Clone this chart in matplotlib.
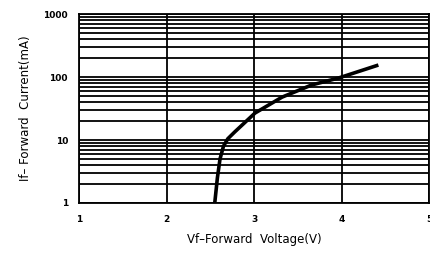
import numpy as np
import matplotlib.pyplot as plt
from matplotlib.ticker import FixedLocator, NullFormatter

# forward voltage (V) vs forward current (mA)
vf = [2.55, 2.58, 2.61, 2.65, 2.70, 2.78, 3.01, 3.32, 3.66, 3.96, 4.42]
i_f = [1.0, 2.5, 5.0, 8.0, 10.5, 13.5, 26.8, 48.0, 75.0, 96.0, 155.0]

x_ticks = [1, 2, 3, 4, 5]
y_ticks = [1, 10, 100, 1000]
y_labels = ["1", "10", "100", "1000"]

fig = plt.figure(figsize=(4.3, 2.65), dpi=100)
ax = fig.add_axes([0.184, 0.234, 0.814, 0.713])

ax.set_yscale("log")
ax.set_xlim(1, 5)
ax.set_ylim(1, 1000)

minor = [m * 10 ** d for d in range(3) for m in range(2, 10)]
ax.yaxis.set_minor_locator(FixedLocator(minor))
ax.yaxis.set_minor_formatter(NullFormatter())
ax.set_yticks(y_ticks)
ax.set_yticklabels(y_labels, fontweight="bold")
ax.set_xticks(x_ticks)
ax.set_xticklabels([str(t) for t in x_ticks], fontweight="bold")

ax.grid(True, which="both", axis="y", color="black", linewidth=1.3)
ax.grid(True, which="major", axis="x", color="black", linewidth=1.3)
for s in ax.spines.values():
    s.set_linewidth(1.3)

ax.tick_params(which="both", length=0, labelsize=6.5, pad=8)
ax.tick_params(axis="x", pad=9)

ax.plot(vf, i_f, color="black", linewidth=2.6, solid_capstyle="butt")

ax.set_xlabel("Vf\u2013Forward  Voltage(V)", fontsize=8.5, labelpad=6)
ax.set_ylabel("If\u2013 Forward  Current(mA)", fontsize=8.5, labelpad=8)

fig.savefig("out.png", dpi=100)
